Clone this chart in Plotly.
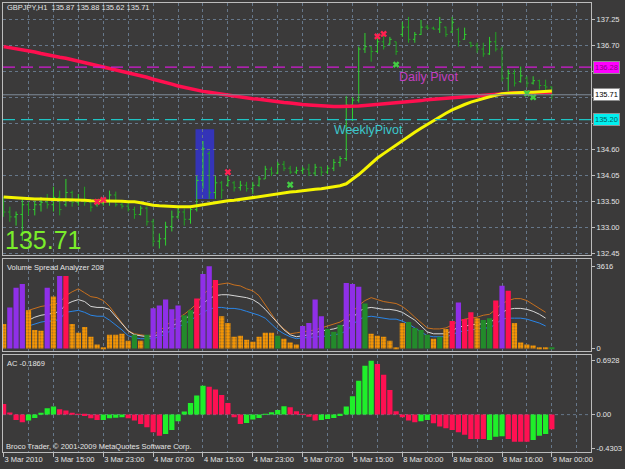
import plotly.graph_objects as go

W, H = 625, 469
FONT = "Liberation Sans, Arial, sans-serif"
BG = "#3b3a3a"
GRID = "#66778a"
FRAME = "#bcbcbc"
TXT = "#e4e4e4"

# ---------------- data ----------------
bars = list(range(89))
open_ = [133.45,133.30,133.20,133.25,133.45,133.35,133.45,133.50,133.45,133.60,
         133.45,133.70,133.50,133.55,133.50,133.45,133.48,133.52,133.65,133.45,
         133.42,133.35,133.25,133.38,133.10,132.70,132.75,133.00,133.20,133.30,
         133.15,133.35,133.95,134.50,133.70,133.90,133.85,133.90,133.80,133.85,
         133.78,133.85,133.98,134.18,134.10,134.28,134.20,134.12,134.15,134.18,
         134.10,134.22,134.12,134.20,134.32,134.40,135.50,135.60,136.65,136.70,
         136.60,136.80,136.75,136.80,136.95,137.10,136.85,136.95,137.10,137.08,
         137.06,137.10,137.00,137.05,136.85,136.78,136.72,136.65,136.55,136.80,
         136.65,136.05,136.15,135.98,136.05,135.95,136.00,135.90,135.87]
high = [133.61,133.41,133.31,133.61,133.51,133.53,133.61,133.67,133.82,133.74,
        133.98,133.74,133.67,133.82,133.57,133.53,133.57,133.74,133.72,133.51,
        133.51,133.41,133.43,133.41,133.16,132.86,133.10,133.33,133.43,133.37,
        133.43,134.04,134.76,134.55,134.04,133.94,134.04,133.94,133.94,133.92,
        133.92,134.04,134.25,134.23,134.33,134.35,134.25,134.23,134.23,134.29,
        134.29,134.23,134.25,134.39,134.45,135.68,135.66,136.70,136.98,136.70,
        136.90,136.94,136.90,136.80,137.21,137.31,137.00,137.25,137.15,137.11,
        137.31,137.11,137.31,137.09,137.09,136.80,136.78,136.78,136.90,137.00,
        136.70,136.23,136.23,136.29,136.09,136.09,136.02,136.02,135.88]
low = [133.20,133.10,133.02,132.71,133.23,133.23,133.31,133.37,133.31,133.23,
       133.41,133.41,133.43,133.43,133.31,133.41,133.43,133.43,133.41,133.37,
       133.31,133.16,133.23,133.02,132.59,132.55,132.61,132.90,133.16,133.02,
       133.06,133.31,133.78,133.57,133.57,133.57,133.82,133.72,133.74,133.72,
       133.67,133.82,133.98,134.04,134.08,134.14,134.08,134.08,134.08,134.04,
       134.04,134.04,134.08,134.14,134.23,134.35,135.17,135.55,136.57,136.39,
       136.57,136.64,136.74,136.53,136.90,136.78,136.78,136.94,137.05,137.05,
       136.98,136.90,136.98,136.70,136.84,136.68,136.57,136.49,136.53,136.60,
       135.98,135.78,135.88,135.96,135.86,135.92,135.82,135.78,135.62]
close = [133.30,133.20,133.25,133.45,133.35,133.45,133.50,133.45,133.60,133.35,
         133.70,133.50,133.55,133.50,133.40,133.48,133.52,133.65,133.45,133.42,
         133.35,133.25,133.38,133.10,132.70,132.75,133.00,133.20,133.30,133.15,
         133.35,133.95,134.60,133.70,133.90,133.75,133.95,133.80,133.85,133.78,
         133.85,133.98,134.18,134.10,134.28,134.20,134.12,134.15,134.18,134.10,
         134.22,134.12,134.20,134.32,134.40,135.50,135.60,136.65,136.70,136.60,
         136.80,136.70,136.85,136.60,137.10,136.85,136.95,137.10,137.08,137.06,
         137.20,136.95,137.20,136.80,136.95,136.72,136.65,136.55,136.80,136.65,
         136.05,136.15,135.95,136.10,135.95,136.00,135.90,135.87,135.71]

ma_red = [136.70,136.68,136.66,136.63,136.61,136.59,136.56,136.53,136.51,136.48,
          136.46,136.43,136.40,136.37,136.35,136.32,136.29,136.26,136.23,136.20,
          136.17,136.14,136.11,136.07,136.03,136.00,135.96,135.93,135.89,135.86,
          135.83,135.80,135.78,135.76,135.74,135.72,135.70,135.68,135.67,135.65,
          135.63,135.62,135.60,135.58,135.57,135.55,135.54,135.52,135.51,135.50,
          135.49,135.48,135.47,135.47,135.47,135.47,135.47,135.48,135.49,135.50,
          135.51,135.52,135.53,135.54,135.55,135.57,135.58,135.59,135.61,135.62,
          135.63,135.65,135.66,135.67,135.68,135.69,135.70,135.71,135.72,135.73,
          135.74,135.74,135.75,135.75,135.75,135.76,135.76,135.76,135.76]
ma_yellow = [133.61,133.60,133.59,133.59,133.58,133.57,133.57,133.56,133.56,133.55,
             133.55,133.55,133.54,133.54,133.53,133.53,133.53,133.52,133.52,133.52,
             133.51,133.51,133.49,133.46,133.44,133.43,133.42,133.41,133.41,133.41,
             133.41,133.43,133.45,133.47,133.50,133.52,133.53,133.54,133.56,133.57,
             133.59,133.61,133.63,133.65,133.67,133.69,133.71,133.72,133.74,133.75,
             133.77,133.78,133.80,133.82,133.84,133.88,133.97,134.07,134.18,134.30,
             134.41,134.50,134.59,134.68,134.77,134.85,134.94,135.02,135.10,135.18,
             135.26,135.33,135.40,135.46,135.51,135.56,135.60,135.64,135.67,135.70,
             135.73,135.74,135.75,135.75,135.76,135.76,135.77,135.78,135.79]

daily_pivot = 136.28
weekly_pivot = 135.20
box_bar_start, box_bar_end = 30.8, 33.8
box_high, box_low = 135.00, 133.57
red_mark_bars = [15, 16, 36, 60, 61]
red_mark_prices = [133.51, 133.55, 134.12, 136.91, 136.96]
green_mark_bars = [46, 63, 84, 85]
green_mark_prices = [133.86, 136.33, 135.74, 135.66]

# labels hidden under the right-hand price boxes are left blank
price_tick_vals = [137.25, 136.717, 136.183, 135.65, 135.117, 134.583, 134.05, 133.517, 132.983, 132.45]
price_tick_text = ["137.25", "136.70", "", "", "", "134.60", "134.05", "133.50", "133.00", "132.45"]

volume = [1076,1808,2669,2841,1679,818,775,2669,2282,3186,
          3186,1076,689,947,517,172,43,603,603,646,
          344,603,344,603,1765,1894,2153,1722,1894,1464,
          1679,2196,3272,3616,3014,1421,1119,517,560,387,
          301,517,689,689,560,430,258,172,990,1119,
          2153,1421,861,732,1033,2884,2841,2712,1980,646,
          560,517,344,43,1119,1162,904,818,603,430,
          517,861,1205,2023,1292,1593,1335,1248,1335,2109,
          2755,2540,1119,258,172,129,43,30,43]
volume_type = ("opppooopop" "rooooooooo" "ogogpppppg" "grpprooooo" "oooogooopp"
               "ppgggpppgo" "oooooggggo" "gorprroggr" "proooooog")
vsa_brown = [None, None, None, None,
             1677,1763,1849,1892,1935,2021,2322,2494,2623,2451,
             2279,2236,2107,1849,1462,1118,774,645,602,559,
             602,774,989,1204,1333,1505,1720,1978,2365,2623,
             2795,2838,2881,2795,2752,2623,2537,2322,1935,1505,
             1118,860,645,688,731,774,817,903,989,1075,
             1161,1333,1634,1892,2107,2236,2150,2064,2021,1978,
             1849,1634,1376,1118,903,860,860,903,1032,1204,
             1290,1333,1376,1462,1505,1720,1978,2107,2193,2193,
             2107,1935,1763,1591, None]
vsa_white = [None, None, None, None,
             1247,1376,1462,1505,1548,1634,1935,2064,2150,2064,
             1849,1806,1806,1720,1419,1118,774,602,559,516,
             516,645,817,989,1118,1290,1462,1677,1978,2193,
             2322,2365,2365,2322,2279,2236,2150,1978,1720,1419,
             1075,817,602,516,559,602,688,774,817,860,
             946,1075,1333,1634,1763,1806,1763,1720,1720,1677,
             1591,1419,1247,989,731,645,645,645,774,946,
             989,1032,1075,1075,1118,1333,1591,1720,1763,1763,
             1720,1634,1505,1333, None]
vsa_blue = [None, None, None, None,
            989,1075,1161,1204,1204,1290,1591,1634,1677,1591,
            1462,1419,1419,1247,1032,817,559,473,430,430,
            430,516,645,817,946,1075,1247,1419,1591,1720,
            1806,1806,1763,1763,1720,1634,1548,1462,1333,1075,
            817,645,516,430,473,473,516,516,559,602,
            645,774,1032,1290,1376,1419,1376,1333,1290,1290,
            1204,1075,903,731,559,516,516,516,602,731,
            774,817,860,903,903,1075,1290,1333,1333,1333,
            1290,1204,1118,989, None]
volume_max_label = 3616

ac = [0.137,0.026,-0.069,-0.099,-0.077,-0.043,0.017,0.082,0.103,0.069,
      0.052,0.021,0.009,-0.017,-0.047,-0.069,-0.069,-0.047,-0.039,-0.034,
      -0.047,-0.077,-0.120,-0.163,-0.227,-0.270,-0.249,-0.197,-0.086,0.039,
      0.150,0.244,0.372,0.359,0.321,0.252,0.150,-0.034,-0.120,-0.107,
      -0.064,-0.043,0.009,0.030,0.060,0.107,0.094,0.043,0.009,-0.026,
      -0.077,-0.069,-0.056,-0.043,-0.017,0.103,0.235,0.436,0.629,0.6928,
      0.650,0.513,0.316,0.043,-0.034,-0.077,-0.099,-0.086,-0.069,-0.111,
      -0.154,-0.176,-0.197,-0.227,-0.257,-0.313,-0.313,-0.313,-0.326,-0.283,
      -0.279,-0.313,-0.347,-0.347,-0.347,-0.326,-0.270,-0.249,-0.1869]
ac_type = ("rrrrgggggr" "rrrrrrgggg" "rrrrrrgggg" "gggrrrrrrg" "ggggggrrrr"
           "rggggggggg" "rrrrrrrggr" "rrrrrrrrgg" "grrrrgggr")
ac_tick_vals = [0.6928, 0.0, -0.4303]
ac_tick_text = ["0.6928", "0.00", "-0.4303"]

time_label_bars = [0, 8, 16, 24, 32, 40, 48, 56, 64, 72, 80, 88]
time_labels = ["3 Mar 2010", "3 Mar 15:00", "3 Mar 23:00", "4 Mar 07:00", "4 Mar 15:00",
               "4 Mar 23:00", "5 Mar 07:00", "5 Mar 15:00", "8 Mar 00:00", "8 Mar 08:00",
               "8 Mar 16:00", "9 Mar 00:00"]

# ---------------- geometry helpers ----------------
def pyp(p):
    return 1 - p / H

XDOM = [3 / W, 593 / W]
XR = [-0.1, 94.3]
MAIN_DOM = [pyp(257), pyp(3)]
VOL_DOM = [pyp(353), pyp(261)]
AC_DOM = [pyp(455), pyp(357)]
PRICE_RANGE = [132.409, 137.597]
VOL_RANGE = [-100, 3922]
AC_RANGE = [-0.481, 0.769]

fig = go.Figure()

# main price bars
fig.add_trace(go.Ohlc(x=bars, open=open_, high=high, low=low, close=close,
                      increasing=dict(line=dict(color="#2fd12f", width=1)),
                      decreasing=dict(line=dict(color="#23a323", width=1)),
                      tickwidth=0.3, xaxis="x", yaxis="y", hoverinfo="skip"))
# moving averages on top (overlay axis)
fig.add_trace(go.Scatter(x=bars, y=ma_red, mode="lines", line=dict(color="#ff0f4f", width=3.5),
                         xaxis="x", yaxis="y5", hoverinfo="skip"))
fig.add_trace(go.Scatter(x=bars, y=ma_yellow, mode="lines", line=dict(color="#f5f500", width=3),
                         xaxis="x", yaxis="y5", hoverinfo="skip"))
fig.add_trace(go.Scatter(x=red_mark_bars, y=red_mark_prices, mode="markers",
                         marker=dict(symbol="x", size=6, color="#ff2050"),
                         xaxis="x", yaxis="y5", hoverinfo="skip"))
fig.add_trace(go.Scatter(x=green_mark_bars, y=green_mark_prices, mode="markers",
                         marker=dict(symbol="x", size=6, color="#44cc44"),
                         xaxis="x", yaxis="y5", hoverinfo="skip"))

# volume lines (behind bars)
for series, col in ((vsa_brown, "#c8701e"), (vsa_white, "#d8d8d8"), (vsa_blue, "#2a86e8")):
    fig.add_trace(go.Scatter(x=bars, y=series, mode="lines", line=dict(color=col, width=1),
                             xaxis="x2", yaxis="y2", hoverinfo="skip"))

vcol = {"o": "#ff9a00", "p": "#8f2fe8", "r": "#ff1050", "g": "#238a2b"}
vfg = {"o": "#ffd040", "p": "#8f2fe8", "r": "#ff1050", "g": "#238a2b"}
vshape = {"o": ".", "p": "", "r": "", "g": ""}
fig.add_trace(go.Bar(x=bars, y=volume, width=0.84,
                     marker=dict(color=[vcol[t] for t in volume_type], line=dict(width=0),
                                 pattern=dict(shape=[vshape[t] for t in volume_type],
                                              fgcolor=[vfg[t] for t in volume_type],
                                              size=3, solidity=0.4, fillmode="overlay")),
                     xaxis="x2", yaxis="y4", hoverinfo="skip"))

acol = {"g": "#1fef2a", "r": "#ff1052"}
fig.add_trace(go.Bar(x=bars, y=ac, width=0.84,
                     marker=dict(color=[acol[t] for t in ac_type], line=dict(width=0)),
                     xaxis="x3", yaxis="y3", hoverinfo="skip"))

axis_common = dict(showline=True, mirror=True, linecolor=FRAME, linewidth=1, zeroline=False)
xgrid = dict(tickmode="linear", tick0=0, dtick=4, showgrid=True, gridcolor=GRID,
             griddash="dot", gridwidth=1, showticklabels=False, ticks="")

fig.update_layout(
    width=W, height=H, margin=dict(l=0, r=0, t=0, b=0),
    paper_bgcolor=BG, plot_bgcolor=BG, showlegend=False,
    font=dict(family=FONT, size=7.5, color=TXT),
    xaxis=dict(domain=XDOM, range=XR, anchor="y", rangeslider=dict(visible=False), **xgrid, **axis_common),
    xaxis2=dict(domain=XDOM, range=XR, anchor="y2", matches="x", **xgrid, **axis_common),
    xaxis3=dict(domain=XDOM, range=XR, anchor="y3", matches="x",
                tickmode="array", tickvals=time_label_bars, ticktext=time_labels,
                ticks="outside", ticklen=4, tickcolor=FRAME, ticklabelposition="outside right",
                showgrid=True, gridcolor=GRID, griddash="dot",
                minor=dict(tickmode="linear", tick0=0, dtick=4, showgrid=True, gridcolor=GRID,
                           griddash="dot", ticks=""),
                tickfont=dict(size=7.5, color=TXT), **axis_common),
    yaxis=dict(domain=MAIN_DOM, range=PRICE_RANGE, anchor="x", side="right",
               tickmode="array", tickvals=price_tick_vals, ticktext=price_tick_text,
               ticks="outside", ticklen=3, tickcolor=FRAME,
               showgrid=True, gridcolor=GRID, griddash="dot", **axis_common),
    yaxis5=dict(range=PRICE_RANGE, overlaying="y", anchor="x", visible=False),
    yaxis2=dict(domain=VOL_DOM, range=VOL_RANGE, anchor="x2", side="right",
                tickmode="array", tickvals=[volume_max_label, 0],
                ticktext=[str(volume_max_label), "0"], ticks="outside", ticklen=3, tickcolor=FRAME,
                showgrid=False, **axis_common),
    yaxis4=dict(range=VOL_RANGE, overlaying="y2", anchor="x2", visible=False),
    yaxis3=dict(domain=AC_DOM, range=AC_RANGE, anchor="x3", side="right",
                tickmode="array", tickvals=ac_tick_vals, ticktext=ac_tick_text,
                ticks="outside", ticklen=3, tickcolor=FRAME, showgrid=False, **axis_common),
)

# shapes: highlight box, pivot lines, current price line, AC zero grid line
fig.add_shape(type="rect", xref="x", yref="y", x0=box_bar_start, x1=box_bar_end,
              y0=box_low, y1=box_high, fillcolor="#3434b8", line=dict(width=0), layer="below")
fig.add_shape(type="line", xref="x domain", yref="y", x0=0, x1=1, y0=daily_pivot, y1=daily_pivot,
              line=dict(color="#d41ad4", width=1.2, dash="12px,6px"))
fig.add_shape(type="line", xref="x domain", yref="y", x0=0, x1=1, y0=weekly_pivot, y1=weekly_pivot,
              line=dict(color="#1fc4c4", width=1.2, dash="12px,6px"))
fig.add_shape(type="line", xref="x domain", yref="y", x0=0, x1=1, y0=close[-1], y1=close[-1],
              line=dict(color="#7f8c99", width=1))
fig.add_shape(type="line", xref="x3 domain", yref="y3", x0=0, x1=1, y0=0, y1=0,
              line=dict(color=GRID, width=1, dash="dot"), layer="below")

ann = []
def txt(x, y, s, size=7.5, color=TXT, xanchor="left"):
    ann.append(dict(xref="paper", yref="paper", x=x / W, y=pyp(y), text=s, showarrow=False,
                    xanchor=xanchor, yanchor="middle", font=dict(family=FONT, size=size, color=color)))

txt(5, 8, "GBPJPY,H1  %.2f %.2f %.2f %.2f" % (open_[-1], high[-1], low[-1], close[-1]))
txt(5, 269, "Volume Spread Analyzer 208")
txt(5, 366, "AC %.4f" % ac[-1])
txt(4, 449, "Broco Trader, © 2001-2009 MetaQuotes Software Corp.")
txt(3, 242, "%.2f" % close[-1], size=25, color="#7aee2a")

# pivot labels
ann.append(dict(xref="x", yref="y", x=63.1, y=daily_pivot, text="Daily Pivot", showarrow=False,
                xanchor="left", yanchor="top", yshift=-1, font=dict(family=FONT, size=12.5, color="#c23ec2")))
ann.append(dict(xref="x", yref="y", x=52.7, y=weekly_pivot, text="WeeklyPivot", showarrow=False,
                xanchor="left", yanchor="top", yshift=-1, font=dict(family=FONT, size=12.5, color="#3cc8cc")))

# right-side price boxes
for val, bg, fg in ((daily_pivot, "#ff00ff", "#8a008a"), (close[-1], "#ffffff", "#000000"),
                    (weekly_pivot, "#00f0f0", "#006060")):
    ann.append(dict(xref="paper", yref="y", x=595 / W, y=val, text="%.2f" % val, showarrow=False,
                    xanchor="left", yanchor="middle", bgcolor=bg, borderpad=1,
                    bordercolor="#909090", borderwidth=1,
                    font=dict(family=FONT, size=7.5, color=fg)))

fig.update_layout(annotations=ann)
fig.write_html("out.html")
